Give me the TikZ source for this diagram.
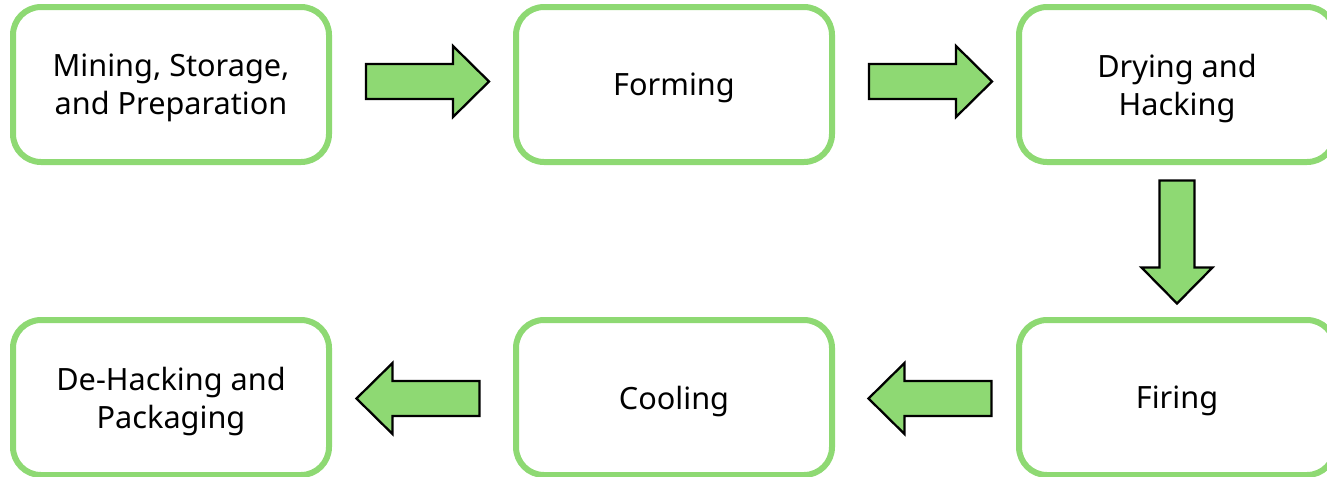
\documentclass[tikz,border=0pt]{standalone}
\usepackage{fontspec}
\setmainfont{Noto Sans}
\usetikzlibrary{positioning,calc}
\definecolor{stepgreen}{RGB}{142,217,115}

\tikzset{
  stepbox/.style={draw=stepgreen, line width=4.5pt, rounded corners=21pt,
    minimum width=237pt, minimum height=116.25pt, align=center,
    text depth=0pt, font=\fontsize{23}{28.5}\selectfont},
  arrowbody/.style={fill=stepgreen, draw=black, line width=1.7pt},
  blkarrow/.pic={
    \draw[arrowbody] (-61.5,-17.5) -- (25.5,-17.5) -- (25.5,-35.5) -- (61.5,0)
      -- (25.5,35.5) -- (25.5,17.5) -- (-61.5,17.5) -- cycle;
  }
}

\begin{document}
\begin{tikzpicture}[x=0.75pt, y=0.75pt]
  \useasboundingbox (0,0) rectangle (1327,-476);

  % top row, left to right
  \node[stepbox] (mining) at (171,-84.5) {Mining, Storage,\\and Preparation};
  \node[stepbox, right=135.75pt of mining] (forming) {Forming};
  \node[stepbox, right=135.75pt of forming] (drying) {Drying and\\Hacking};

  % bottom row, right to left
  \node[stepbox, below=114pt of drying] (firing) {Firing};
  \node[stepbox, left=135.75pt of firing] (cooling) {Cooling};
  \node[stepbox, left=135.75pt of cooling] (packaging) {De-Hacking and\\Packaging};

  % block arrows
  \pic at ($(mining.east)!0.5!(forming.west) + (5,3)$) {blkarrow};
  \pic at ($(forming.east)!0.5!(drying.west) + (5,3)$) {blkarrow};
  \pic[rotate=-90] at ($(drying.south)!0.5!(firing.north) + (0,-1)$) {blkarrow};
  \pic[rotate=180] at ($(firing.west)!0.5!(cooling.east) + (4.5,-1)$) {blkarrow};
  \pic[rotate=180] at ($(cooling.west)!0.5!(packaging.east) + (-4.5,-1)$) {blkarrow};
\end{tikzpicture}
\end{document}
